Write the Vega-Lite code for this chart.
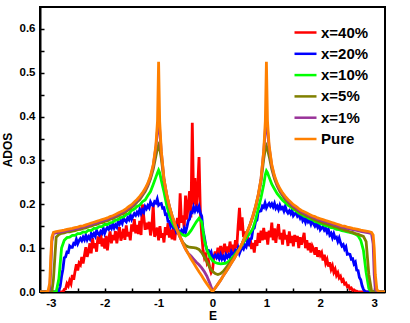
{
"$schema": "https://vega.github.io/schema/vega-lite/v6.json",
"width": 345,
"height": 285,
"autosize": {"type": "none"},
"padding": {"left": 40, "top": 7, "right": 25, "bottom": 31},
"background": "white",
"config": {
  "font": "Liberation Sans",
  "view": {"stroke": "black", "strokeWidth": 2},
  "axis": {"domainColor": "black", "domainWidth": 2, "tickColor": "black", "tickWidth": 1.5, "labelFont": "Liberation Sans", "labelFontWeight": "bold", "labelFontSize": 11.5, "labelColor": "black", "titleFont": "Liberation Sans", "titleFontWeight": "bold", "titleFontSize": 12, "titleColor": "black", "grid": false}
},
"datasets": {
"noisy": [
{"E":-3.2,"x=40%":0,"x=20%":0},{"E":-2.9,"x=40%":0,"x=20%":0},{"E":-2.875,"x=40%":0,"x=20%":0},{"E":-2.85,"x=40%":0,"x=20%":0.003},{"E":-2.825,"x=40%":0,"x=20%":0.013},{"E":-2.8,"x=40%":0,"x=20%":0.036},{"E":-2.775,"x=40%":0,"x=20%":0.052},{"E":-2.75,"x=40%":0.006,"x=20%":0.078},{"E":-2.725,"x=40%":0.007,"x=20%":0.08},{"E":-2.7,"x=40%":0.019,"x=20%":0.091},{"E":-2.675,"x=40%":0.014,"x=20%":0.09},{"E":-2.65,"x=40%":0.026,"x=20%":0.105},{"E":-2.625,"x=40%":0.019,"x=20%":0.102},{"E":-2.6,"x=40%":0.039,"x=20%":0.102},{"E":-2.575,"x=40%":0.028,"x=20%":0.111},{"E":-2.55,"x=40%":0.047,"x=20%":0.109},{"E":-2.525,"x=40%":0.063,"x=20%":0.12},{"E":-2.5,"x=40%":0.049,"x=20%":0.11},{"E":-2.475,"x=40%":0.066,"x=20%":0.117},{"E":-2.45,"x=40%":0.062,"x=20%":0.122},{"E":-2.425,"x=40%":0.08,"x=20%":0.117},{"E":-2.4,"x=40%":0.065,"x=20%":0.125},{"E":-2.375,"x=40%":0.084,"x=20%":0.119},{"E":-2.35,"x=40%":0.102,"x=20%":0.129},{"E":-2.325,"x=40%":0.08,"x=20%":0.119},{"E":-2.3,"x=40%":0.092,"x=20%":0.126},{"E":-2.275,"x=40%":0.111,"x=20%":0.121},{"E":-2.25,"x=40%":0.088,"x=20%":0.133},{"E":-2.225,"x=40%":0.123,"x=20%":0.127},{"E":-2.2,"x=40%":0.1,"x=20%":0.133},{"E":-2.175,"x=40%":0.111,"x=20%":0.127},{"E":-2.15,"x=40%":0.092,"x=20%":0.14},{"E":-2.125,"x=40%":0.127,"x=20%":0.133},{"E":-2.1,"x=40%":0.11,"x=20%":0.13},{"E":-2.075,"x=40%":0.137,"x=20%":0.138},{"E":-2.05,"x=40%":0.104,"x=20%":0.134},{"E":-2.025,"x=40%":0.122,"x=20%":0.145},{"E":-2.0,"x=40%":0.099,"x=20%":0.134},{"E":-1.975,"x=40%":0.128,"x=20%":0.142},{"E":-1.95,"x=40%":0.095,"x=20%":0.147},{"E":-1.925,"x=40%":0.122,"x=20%":0.143},{"E":-1.9,"x=40%":0.138,"x=20%":0.15},{"E":-1.875,"x=40%":0.111,"x=20%":0.145},{"E":-1.85,"x=40%":0.13,"x=20%":0.155},{"E":-1.825,"x=40%":0.118,"x=20%":0.146},{"E":-1.8,"x=40%":0.139,"x=20%":0.153},{"E":-1.775,"x=40%":0.111,"x=20%":0.148},{"E":-1.75,"x=40%":0.132,"x=20%":0.161},{"E":-1.725,"x=40%":0.148,"x=20%":0.155},{"E":-1.7,"x=40%":0.117,"x=20%":0.162},{"E":-1.675,"x=40%":0.128,"x=20%":0.156},{"E":-1.65,"x=40%":0.144,"x=20%":0.169},{"E":-1.625,"x=40%":0.119,"x=20%":0.163},{"E":-1.6,"x=40%":0.152,"x=20%":0.16},{"E":-1.575,"x=40%":0.127,"x=20%":0.169},{"E":-1.55,"x=40%":0.137,"x=20%":0.165},{"E":-1.525,"x=40%":0.118,"x=20%":0.176},{"E":-1.5,"x=40%":0.154,"x=20%":0.166},{"E":-1.475,"x=40%":0.138,"x=20%":0.173},{"E":-1.45,"x=40%":0.166,"x=20%":0.179},{"E":-1.425,"x=40%":0.134,"x=20%":0.175},{"E":-1.4,"x=40%":0.153,"x=20%":0.182},{"E":-1.375,"x=40%":0.132,"x=20%":0.177},{"E":-1.35,"x=40%":0.162,"x=20%":0.188},{"E":-1.325,"x=40%":0.13,"x=20%":0.179},{"E":-1.3,"x=40%":0.2,"x=20%":0.187},{"E":-1.275,"x=40%":0.172,"x=20%":0.182},{"E":-1.25,"x=40%":0.142,"x=20%":0.195},{"E":-1.225,"x=40%":0.158,"x=20%":0.19},{"E":-1.2,"x=40%":0.143,"x=20%":0.197},{"E":-1.175,"x=40%":0.16,"x=20%":0.192},{"E":-1.15,"x=40%":0.129,"x=20%":0.205},{"E":-1.125,"x=40%":0.147,"x=20%":0.199},{"E":-1.1,"x=40%":0.2,"x=20%":0.197},{"E":-1.075,"x=40%":0.126,"x=20%":0.206},{"E":-1.05,"x=40%":0.134,"x=20%":0.203},{"E":-1.025,"x=40%":0.147,"x=20%":0.212},{"E":-1.0,"x=40%":0.118,"x=20%":0.198},{"E":-0.975,"x=40%":0.15,"x=20%":0.201},{"E":-0.95,"x=40%":0.124,"x=20%":0.202},{"E":-0.925,"x=40%":0.134,"x=20%":0.191},{"E":-0.9,"x=40%":0.113,"x=20%":0.192},{"E":-0.875,"x=40%":0.148,"x=20%":0.177},{"E":-0.85,"x=40%":0.13,"x=20%":0.178},{"E":-0.825,"x=40%":0.157,"x=20%":0.161},{"E":-0.8,"x=40%":0.124,"x=20%":0.161},{"E":-0.775,"x=40%":0.142,"x=20%":0.15},{"E":-0.75,"x=40%":0.12,"x=20%":0.157},{"E":-0.725,"x=40%":0.15,"x=20%":0.147},{"E":-0.7,"x=40%":0.118,"x=20%":0.149},{"E":-0.675,"x=40%":0.149,"x=20%":0.139},{"E":-0.65,"x=40%":0.169,"x=20%":0.147},{"E":-0.625,"x=40%":0.146,"x=20%":0.138},{"E":-0.6,"x=40%":0.225,"x=20%":0.133},{"E":-0.575,"x=40%":0.158,"x=20%":0.14},{"E":-0.55,"x=40%":0.175,"x=20%":0.135},{"E":-0.525,"x=40%":0.145,"x=20%":0.145},{"E":-0.5,"x=40%":0.22,"x=20%":0.136},{"E":-0.475,"x=40%":0.165,"x=20%":0.148},{"E":-0.45,"x=40%":0.2,"x=20%":0.162},{"E":-0.425,"x=40%":0.23,"x=20%":0.166},{"E":-0.4,"x=40%":0.17,"x=20%":0.182},{"E":-0.375,"x=40%":0.386,"x=20%":0.181},{"E":-0.35,"x=40%":0.2,"x=20%":0.194},{"E":-0.325,"x=40%":0.26,"x=20%":0.185},{"E":-0.3,"x=40%":0.19,"x=20%":0.193},{"E":-0.275,"x=40%":0.235,"x=20%":0.186},{"E":-0.25,"x=40%":0.308,"x=20%":0.195},{"E":-0.225,"x=40%":0.18,"x=20%":0.18},{"E":-0.2,"x=40%":0.13,"x=20%":0.173},{"E":-0.175,"x=40%":0.095,"x=20%":0.141},{"E":-0.15,"x=40%":0.078,"x=20%":0.125},{"E":-0.125,"x=40%":0.085,"x=20%":0.106},{"E":-0.1,"x=40%":0.066,"x=20%":0.095},{"E":-0.075,"x=40%":0.072,"x=20%":0.095},{"E":-0.05,"x=40%":0.055,"x=20%":0.085},{"E":-0.025,"x=40%":0.044,"x=20%":0.091},{"E":0,"x=40%":0.05,"x=20%":0.076},{"E":0.025,"x=40%":0.078,"x=20%":0.081},{"E":0.05,"x=40%":0.092,"x=20%":0.084},{"E":0.075,"x=40%":0.079,"x=20%":0.078},{"E":0.1,"x=40%":0.101,"x=20%":0.084},{"E":0.125,"x=40%":0.086,"x=20%":0.076},{"E":0.15,"x=40%":0.105,"x=20%":0.085},{"E":0.175,"x=40%":0.083,"x=20%":0.075},{"E":0.2,"x=40%":0.098,"x=20%":0.081},{"E":0.225,"x=40%":0.11,"x=20%":0.074},{"E":0.25,"x=40%":0.085,"x=20%":0.085},{"E":0.275,"x=40%":0.104,"x=20%":0.079},{"E":0.3,"x=40%":0.09,"x=20%":0.085},{"E":0.325,"x=40%":0.115,"x=20%":0.079},{"E":0.35,"x=40%":0.094,"x=20%":0.092},{"E":0.375,"x=40%":0.108,"x=20%":0.086},{"E":0.4,"x=40%":0.087,"x=20%":0.085},{"E":0.425,"x=40%":0.118,"x=20%":0.094},{"E":0.45,"x=40%":0.1,"x=20%":0.09},{"E":0.475,"x=40%":0.15,"x=20%":0.1},{"E":0.5,"x=40%":0.192,"x=20%":0.088},{"E":0.525,"x=40%":0.14,"x=20%":0.096},{"E":0.55,"x=40%":0.17,"x=20%":0.102},{"E":0.575,"x=40%":0.125,"x=20%":0.098},{"E":0.6,"x=40%":0.138,"x=20%":0.107},{"E":0.625,"x=40%":0.115,"x=20%":0.103},{"E":0.65,"x=40%":0.128,"x=20%":0.116},{"E":0.675,"x=40%":0.105,"x=20%":0.11},{"E":0.7,"x=40%":0.122,"x=20%":0.121},{"E":0.725,"x=40%":0.098,"x=20%":0.122},{"E":0.75,"x=40%":0.112,"x=20%":0.143},{"E":0.775,"x=40%":0.09,"x=20%":0.146},{"E":0.8,"x=40%":0.118,"x=20%":0.161},{"E":0.825,"x=40%":0.105,"x=20%":0.164},{"E":0.85,"x=40%":0.135,"x=20%":0.185},{"E":0.875,"x=40%":0.112,"x=20%":0.184},{"E":0.9,"x=40%":0.14,"x=20%":0.185},{"E":0.925,"x=40%":0.118,"x=20%":0.196},{"E":0.95,"x=40%":0.146,"x=20%":0.193},{"E":0.975,"x=40%":0.12,"x=20%":0.203},{"E":1.0,"x=40%":0.137,"x=20%":0.192},{"E":1.025,"x=40%":0.108,"x=20%":0.198},{"E":1.05,"x=40%":0.14,"x=20%":0.202},{"E":1.075,"x=40%":0.125,"x=20%":0.196},{"E":1.1,"x=40%":0.158,"x=20%":0.201},{"E":1.125,"x=40%":0.118,"x=20%":0.194},{"E":1.15,"x=40%":0.145,"x=20%":0.202},{"E":1.175,"x=40%":0.112,"x=20%":0.191},{"E":1.2,"x=40%":0.138,"x=20%":0.196},{"E":1.225,"x=40%":0.155,"x=20%":0.188},{"E":1.25,"x=40%":0.12,"x=20%":0.198},{"E":1.275,"x=40%":0.135,"x=20%":0.19},{"E":1.3,"x=40%":0.108,"x=20%":0.193},{"E":1.325,"x=40%":0.142,"x=20%":0.185},{"E":1.35,"x=40%":0.12,"x=20%":0.195},{"E":1.375,"x=40%":0.13,"x=20%":0.185},{"E":1.4,"x=40%":0.105,"x=20%":0.18},{"E":1.425,"x=40%":0.138,"x=20%":0.185},{"E":1.45,"x=40%":0.112,"x=20%":0.179},{"E":1.475,"x=40%":0.128,"x=20%":0.187},{"E":1.5,"x=40%":0.104,"x=20%":0.174},{"E":1.525,"x=40%":0.13,"x=20%":0.178},{"E":1.55,"x=40%":0.115,"x=20%":0.181},{"E":1.575,"x=40%":0.128,"x=20%":0.173},{"E":1.6,"x=40%":0.1,"x=20%":0.177},{"E":1.625,"x=40%":0.125,"x=20%":0.169},{"E":1.65,"x=40%":0.108,"x=20%":0.176},{"E":1.675,"x=40%":0.12,"x=20%":0.163},{"E":1.7,"x=40%":0.135,"x=20%":0.168},{"E":1.725,"x=40%":0.1,"x=20%":0.159},{"E":1.75,"x=40%":0.118,"x=20%":0.169},{"E":1.775,"x=40%":0.095,"x=20%":0.16},{"E":1.8,"x=40%":0.112,"x=20%":0.164},{"E":1.825,"x=40%":0.09,"x=20%":0.155},{"E":1.85,"x=40%":0.105,"x=20%":0.165},{"E":1.875,"x=40%":0.098,"x=20%":0.155},{"E":1.9,"x=40%":0.085,"x=20%":0.15},{"E":1.925,"x=40%":0.102,"x=20%":0.155},{"E":1.95,"x=40%":0.08,"x=20%":0.148},{"E":1.975,"x=40%":0.095,"x=20%":0.156},{"E":2.0,"x=40%":0.084,"x=20%":0.142},{"E":2.025,"x=40%":0.09,"x=20%":0.146},{"E":2.05,"x=40%":0.072,"x=20%":0.149},{"E":2.075,"x=40%":0.085,"x=20%":0.141},{"E":2.1,"x=40%":0.066,"x=20%":0.145},{"E":2.125,"x=40%":0.074,"x=20%":0.136},{"E":2.15,"x=40%":0.058,"x=20%":0.143},{"E":2.175,"x=40%":0.068,"x=20%":0.13},{"E":2.2,"x=40%":0.052,"x=20%":0.134},{"E":2.225,"x=40%":0.06,"x=20%":0.124},{"E":2.25,"x=40%":0.045,"x=20%":0.133},{"E":2.275,"x=40%":0.052,"x=20%":0.123},{"E":2.3,"x=40%":0.038,"x=20%":0.125},{"E":2.325,"x=40%":0.044,"x=20%":0.115},{"E":2.35,"x=40%":0.032,"x=20%":0.123},{"E":2.375,"x=40%":0.036,"x=20%":0.112},{"E":2.4,"x=40%":0.025,"x=20%":0.105},{"E":2.425,"x=40%":0.028,"x=20%":0.108},{"E":2.45,"x=40%":0.018,"x=20%":0.098},{"E":2.475,"x=40%":0.02,"x=20%":0.103},{"E":2.5,"x=40%":0.012,"x=20%":0.086},{"E":2.525,"x=40%":0.014,"x=20%":0.087},{"E":2.55,"x=40%":0.007,"x=20%":0.086},{"E":2.575,"x=40%":0.009,"x=20%":0.075},{"E":2.6,"x=40%":0.004,"x=20%":0.076},{"E":2.625,"x=40%":0.005,"x=20%":0.064},{"E":2.65,"x=40%":0.002,"x=20%":0.068},{"E":2.675,"x=40%":0.002,"x=20%":0.05},{"E":2.7,"x=40%":0,"x=20%":0.049},{"E":2.725,"x=40%":0,"x=20%":0.033},{"E":2.75,"x=40%":0,"x=20%":0.028},{"E":2.775,"x=40%":0,"x=20%":0.014},{"E":2.8,"x=40%":0,"x=20%":0.006},{"E":2.825,"x=40%":0,"x=20%":0.002},{"E":2.85,"x=40%":0,"x=20%":0},{"E":2.9,"x=40%":0,"x=20%":0},{"E":3.2,"x=40%":0,"x=20%":0}
],
"smooth": [
{"E":-3.2,"x=10%":0,"x=5%":0,"x=1%":0,"Pure":0},{"E":-3.15,"x=10%":0,"x=5%":0,"x=1%":0,"Pure":0},{"E":-3.1,"x=10%":0,"x=5%":0,"x=1%":0,"Pure":0},{"E":-3.05,"x=10%":0,"x=5%":0,"x=1%":0.001,"Pure":0.003},{"E":-3.02,"x=10%":0,"x=5%":0,"x=1%":0.006,"Pure":0.02},{"E":-3.0,"x=10%":0,"x=5%":0,"x=1%":0.05,"Pure":0.08},{"E":-2.98,"x=10%":0,"x=5%":0,"x=1%":0.115,"Pure":0.125},{"E":-2.95,"x=10%":0,"x=5%":0.03,"x=1%":0.134,"Pure":0.136},{"E":-2.9,"x=10%":0,"x=5%":0.125,"x=1%":0.135,"Pure":0.138},{"E":-2.85,"x=10%":0.03,"x=5%":0.131,"x=1%":0.136,"Pure":0.139},{"E":-2.8,"x=10%":0.1,"x=5%":0.134,"x=1%":0.137,"Pure":0.14},{"E":-2.75,"x=10%":0.118,"x=5%":0.135,"x=1%":0.138,"Pure":0.141},{"E":-2.7,"x=10%":0.124,"x=5%":0.137,"x=1%":0.14,"Pure":0.143},{"E":-2.65,"x=10%":0.125,"x=5%":0.137,"x=1%":0.141,"Pure":0.144},{"E":-2.6,"x=10%":0.129,"x=5%":0.139,"x=1%":0.142,"Pure":0.145},{"E":-2.55,"x=10%":0.129,"x=5%":0.14,"x=1%":0.144,"Pure":0.147},{"E":-2.5,"x=10%":0.133,"x=5%":0.142,"x=1%":0.145,"Pure":0.148},{"E":-2.45,"x=10%":0.133,"x=5%":0.143,"x=1%":0.147,"Pure":0.15},{"E":-2.4,"x=10%":0.137,"x=5%":0.145,"x=1%":0.148,"Pure":0.151},{"E":-2.35,"x=10%":0.136,"x=5%":0.146,"x=1%":0.15,"Pure":0.153},{"E":-2.3,"x=10%":0.141,"x=5%":0.149,"x=1%":0.152,"Pure":0.155},{"E":-2.25,"x=10%":0.14,"x=5%":0.15,"x=1%":0.154,"Pure":0.157},{"E":-2.2,"x=10%":0.145,"x=5%":0.153,"x=1%":0.156,"Pure":0.159},{"E":-2.15,"x=10%":0.145,"x=5%":0.154,"x=1%":0.158,"Pure":0.161},{"E":-2.1,"x=10%":0.149,"x=5%":0.157,"x=1%":0.16,"Pure":0.163},{"E":-2.05,"x=10%":0.149,"x=5%":0.158,"x=1%":0.162,"Pure":0.165},{"E":-2.0,"x=10%":0.154,"x=5%":0.161,"x=1%":0.164,"Pure":0.167},{"E":-1.95,"x=10%":0.154,"x=5%":0.162,"x=1%":0.166,"Pure":0.169},{"E":-1.9,"x=10%":0.158,"x=5%":0.166,"x=1%":0.169,"Pure":0.172},{"E":-1.85,"x=10%":0.159,"x=5%":0.167,"x=1%":0.171,"Pure":0.174},{"E":-1.8,"x=10%":0.164,"x=5%":0.171,"x=1%":0.174,"Pure":0.177},{"E":-1.75,"x=10%":0.165,"x=5%":0.173,"x=1%":0.177,"Pure":0.18},{"E":-1.7,"x=10%":0.17,"x=5%":0.177,"x=1%":0.18,"Pure":0.183},{"E":-1.65,"x=10%":0.171,"x=5%":0.179,"x=1%":0.183,"Pure":0.186},{"E":-1.6,"x=10%":0.177,"x=5%":0.184,"x=1%":0.187,"Pure":0.19},{"E":-1.55,"x=10%":0.179,"x=5%":0.188,"x=1%":0.192,"Pure":0.195},{"E":-1.5,"x=10%":0.186,"x=5%":0.193,"x=1%":0.196,"Pure":0.199},{"E":-1.45,"x=10%":0.189,"x=5%":0.198,"x=1%":0.202,"Pure":0.205},{"E":-1.4,"x=10%":0.195,"x=5%":0.205,"x=1%":0.208,"Pure":0.211},{"E":-1.35,"x=10%":0.198,"x=5%":0.211,"x=1%":0.215,"Pure":0.218},{"E":-1.3,"x=10%":0.206,"x=5%":0.22,"x=1%":0.223,"Pure":0.226},{"E":-1.25,"x=10%":0.21,"x=5%":0.229,"x=1%":0.233,"Pure":0.236},{"E":-1.2,"x=10%":0.22,"x=5%":0.242,"x=1%":0.245,"Pure":0.248},{"E":-1.15,"x=10%":0.229,"x=5%":0.258,"x=1%":0.262,"Pure":0.265},{"E":-1.1,"x=10%":0.245,"x=5%":0.28,"x=1%":0.287,"Pure":0.29},{"E":-1.05,"x=10%":0.262,"x=5%":0.31,"x=1%":0.33,"Pure":0.335},{"E":-1.02,"x=10%":0.272,"x=5%":0.328,"x=1%":0.37,"Pure":0.39},{"E":-1.0,"x=10%":0.278,"x=5%":0.335,"x=1%":0.4,"Pure":0.525},{"E":-0.98,"x=10%":0.272,"x=5%":0.328,"x=1%":0.37,"Pure":0.39},{"E":-0.95,"x=10%":0.255,"x=5%":0.305,"x=1%":0.32,"Pure":0.322},{"E":-0.9,"x=10%":0.228,"x=5%":0.255,"x=1%":0.257,"Pure":0.258},{"E":-0.85,"x=10%":0.198,"x=5%":0.22,"x=1%":0.222,"Pure":0.223},{"E":-0.8,"x=10%":0.175,"x=5%":0.194,"x=1%":0.195,"Pure":0.196},{"E":-0.75,"x=10%":0.16,"x=5%":0.173,"x=1%":0.174,"Pure":0.174},{"E":-0.7,"x=10%":0.148,"x=5%":0.155,"x=1%":0.155,"Pure":0.155},{"E":-0.65,"x=10%":0.14,"x=5%":0.139,"x=1%":0.139,"Pure":0.139},{"E":-0.6,"x=10%":0.134,"x=5%":0.125,"x=1%":0.125,"Pure":0.125},{"E":-0.55,"x=10%":0.13,"x=5%":0.113,"x=1%":0.111,"Pure":0.111},{"E":-0.5,"x=10%":0.128,"x=5%":0.106,"x=1%":0.098,"Pure":0.098},{"E":-0.45,"x=10%":0.132,"x=5%":0.103,"x=1%":0.088,"Pure":0.087},{"E":-0.4,"x=10%":0.14,"x=5%":0.102,"x=1%":0.082,"Pure":0.076},{"E":-0.35,"x=10%":0.15,"x=5%":0.101,"x=1%":0.075,"Pure":0.066},{"E":-0.3,"x=10%":0.16,"x=5%":0.1,"x=1%":0.068,"Pure":0.056},{"E":-0.25,"x=10%":0.168,"x=5%":0.097,"x=1%":0.062,"Pure":0.046},{"E":-0.2,"x=10%":0.16,"x=5%":0.09,"x=1%":0.055,"Pure":0.037},{"E":-0.15,"x=10%":0.118,"x=5%":0.08,"x=1%":0.046,"Pure":0.027},{"E":-0.1,"x=10%":0.095,"x=5%":0.068,"x=1%":0.035,"Pure":0.018},{"E":-0.05,"x=10%":0.08,"x=5%":0.056,"x=1%":0.02,"Pure":0.009},{"E":0,"x=10%":0.072,"x=5%":0.047,"x=1%":0.003,"Pure":0},{"E":0.05,"x=10%":0.067,"x=5%":0.042,"x=1%":0.009,"Pure":0.009},{"E":0.1,"x=10%":0.065,"x=5%":0.04,"x=1%":0.018,"Pure":0.018},{"E":0.15,"x=10%":0.064,"x=5%":0.042,"x=1%":0.027,"Pure":0.027},{"E":0.2,"x=10%":0.065,"x=5%":0.047,"x=1%":0.037,"Pure":0.037},{"E":0.25,"x=10%":0.066,"x=5%":0.055,"x=1%":0.046,"Pure":0.046},{"E":0.3,"x=10%":0.07,"x=5%":0.063,"x=1%":0.056,"Pure":0.056},{"E":0.35,"x=10%":0.076,"x=5%":0.071,"x=1%":0.066,"Pure":0.066},{"E":0.4,"x=10%":0.083,"x=5%":0.079,"x=1%":0.076,"Pure":0.076},{"E":0.45,"x=10%":0.091,"x=5%":0.088,"x=1%":0.087,"Pure":0.087},{"E":0.5,"x=10%":0.098,"x=5%":0.098,"x=1%":0.098,"Pure":0.098},{"E":0.55,"x=10%":0.108,"x=5%":0.11,"x=1%":0.111,"Pure":0.111},{"E":0.6,"x=10%":0.118,"x=5%":0.124,"x=1%":0.125,"Pure":0.125},{"E":0.65,"x=10%":0.127,"x=5%":0.138,"x=1%":0.139,"Pure":0.139},{"E":0.7,"x=10%":0.135,"x=5%":0.154,"x=1%":0.155,"Pure":0.155},{"E":0.75,"x=10%":0.145,"x=5%":0.172,"x=1%":0.174,"Pure":0.174},{"E":0.8,"x=10%":0.165,"x=5%":0.193,"x=1%":0.195,"Pure":0.196},{"E":0.85,"x=10%":0.19,"x=5%":0.219,"x=1%":0.222,"Pure":0.223},{"E":0.9,"x=10%":0.215,"x=5%":0.253,"x=1%":0.257,"Pure":0.258},{"E":0.95,"x=10%":0.245,"x=5%":0.303,"x=1%":0.32,"Pure":0.322},{"E":0.98,"x=10%":0.268,"x=5%":0.326,"x=1%":0.37,"Pure":0.39},{"E":1.0,"x=10%":0.276,"x=5%":0.333,"x=1%":0.4,"Pure":0.525},{"E":1.02,"x=10%":0.272,"x=5%":0.326,"x=1%":0.37,"Pure":0.39},{"E":1.05,"x=10%":0.262,"x=5%":0.31,"x=1%":0.33,"Pure":0.335},{"E":1.1,"x=10%":0.246,"x=5%":0.28,"x=1%":0.287,"Pure":0.29},{"E":1.15,"x=10%":0.235,"x=5%":0.258,"x=1%":0.262,"Pure":0.265},{"E":1.2,"x=10%":0.224,"x=5%":0.242,"x=1%":0.245,"Pure":0.248},{"E":1.25,"x=10%":0.217,"x=5%":0.229,"x=1%":0.233,"Pure":0.236},{"E":1.3,"x=10%":0.209,"x=5%":0.22,"x=1%":0.223,"Pure":0.226},{"E":1.35,"x=10%":0.204,"x=5%":0.211,"x=1%":0.215,"Pure":0.218},{"E":1.4,"x=10%":0.198,"x=5%":0.205,"x=1%":0.208,"Pure":0.211},{"E":1.45,"x=10%":0.194,"x=5%":0.198,"x=1%":0.202,"Pure":0.205},{"E":1.5,"x=10%":0.189,"x=5%":0.193,"x=1%":0.196,"Pure":0.199},{"E":1.55,"x=10%":0.185,"x=5%":0.188,"x=1%":0.192,"Pure":0.195},{"E":1.6,"x=10%":0.18,"x=5%":0.184,"x=1%":0.187,"Pure":0.19},{"E":1.65,"x=10%":0.177,"x=5%":0.179,"x=1%":0.183,"Pure":0.186},{"E":1.7,"x=10%":0.173,"x=5%":0.177,"x=1%":0.18,"Pure":0.183},{"E":1.75,"x=10%":0.171,"x=5%":0.173,"x=1%":0.177,"Pure":0.18},{"E":1.8,"x=10%":0.167,"x=5%":0.171,"x=1%":0.174,"Pure":0.177},{"E":1.85,"x=10%":0.165,"x=5%":0.167,"x=1%":0.171,"Pure":0.174},{"E":1.9,"x=10%":0.161,"x=5%":0.165,"x=1%":0.169,"Pure":0.172},{"E":1.95,"x=10%":0.159,"x=5%":0.162,"x=1%":0.166,"Pure":0.169},{"E":2.0,"x=10%":0.156,"x=5%":0.16,"x=1%":0.164,"Pure":0.167},{"E":2.05,"x=10%":0.154,"x=5%":0.157,"x=1%":0.162,"Pure":0.165},{"E":2.1,"x=10%":0.151,"x=5%":0.156,"x=1%":0.16,"Pure":0.163},{"E":2.15,"x=10%":0.15,"x=5%":0.153,"x=1%":0.158,"Pure":0.161},{"E":2.2,"x=10%":0.147,"x=5%":0.152,"x=1%":0.156,"Pure":0.159},{"E":2.25,"x=10%":0.146,"x=5%":0.149,"x=1%":0.154,"Pure":0.157},{"E":2.3,"x=10%":0.143,"x=5%":0.148,"x=1%":0.152,"Pure":0.155},{"E":2.35,"x=10%":0.142,"x=5%":0.145,"x=1%":0.15,"Pure":0.153},{"E":2.4,"x=10%":0.14,"x=5%":0.144,"x=1%":0.148,"Pure":0.151},{"E":2.45,"x=10%":0.139,"x=5%":0.141,"x=1%":0.147,"Pure":0.15},{"E":2.5,"x=10%":0.137,"x=5%":0.14,"x=1%":0.145,"Pure":0.148},{"E":2.55,"x=10%":0.136,"x=5%":0.137,"x=1%":0.144,"Pure":0.147},{"E":2.6,"x=10%":0.134,"x=5%":0.136,"x=1%":0.142,"Pure":0.145},{"E":2.65,"x=10%":0.132,"x=5%":0.133,"x=1%":0.141,"Pure":0.144},{"E":2.7,"x=10%":0.128,"x=5%":0.132,"x=1%":0.14,"Pure":0.143},{"E":2.75,"x=10%":0.118,"x=5%":0.129,"x=1%":0.138,"Pure":0.141},{"E":2.8,"x=10%":0.095,"x=5%":0.127,"x=1%":0.137,"Pure":0.14},{"E":2.85,"x=10%":0.045,"x=5%":0.115,"x=1%":0.136,"Pure":0.139},{"E":2.9,"x=10%":0.008,"x=5%":0.04,"x=1%":0.135,"Pure":0.138},{"E":2.95,"x=10%":0,"x=5%":0.003,"x=1%":0.133,"Pure":0.136},{"E":2.98,"x=10%":0,"x=5%":0,"x=1%":0.11,"Pure":0.13},{"E":3.0,"x=10%":0,"x=5%":0,"x=1%":0.04,"Pure":0.1},{"E":3.02,"x=10%":0,"x=5%":0,"x=1%":0.006,"Pure":0.04},{"E":3.05,"x=10%":0,"x=5%":0,"x=1%":0.001,"Pure":0.005},{"E":3.1,"x=10%":0,"x=5%":0,"x=1%":0,"Pure":0},{"E":3.15,"x=10%":0,"x=5%":0,"x=1%":0,"Pure":0},{"E":3.2,"x=10%":0,"x=5%":0,"x=1%":0,"Pure":0}
]
},
"encoding": {
  "x": {"field": "E", "type": "quantitative", "scale": {"domain": [-3.2, 3.2], "nice": false, "zero": false},
    "axis": {"title": "E", "values": [-3, -2.5, -2, -1.5, -1, -0.5, 0, 0.5, 1, 1.5, 2, 2.5, 3], "labelExpr": "round(datum.value*2) % 2 === 0 ? '' + datum.value : ''", "tickSize": -4, "labelPadding": 9.5, "labelOverlap": false, "labelFlush": false, "titlePadding": 1}},
  "y": {"field": "ADOS", "type": "quantitative", "scale": {"domain": [0, 0.65], "nice": false},
    "axis": {"title": "ADOS", "values": [0, 0.05, 0.1, 0.15, 0.2, 0.25, 0.3, 0.35, 0.4, 0.45, 0.5, 0.55, 0.6], "labelExpr": "round(datum.value*20) % 2 === 0 ? format(datum.value, '.1f') : ''", "tickSize": -4, "labelPadding": 9, "labelOverlap": false, "labelFlush": false, "titlePadding": 5}},
  "color": {"field": "series", "type": "nominal",
    "scale": {"domain": ["x=40%", "x=20%", "x=10%", "x=5%", "x=1%", "Pure"], "range": ["#ff0000", "#0000ff", "#00ff00", "#808000", "#993399", "#ff8000"]},
    "legend": {"title": null, "orient": "none", "legendX": 253, "legendY": 13, "symbolType": "stroke", "symbolSize": 484, "symbolStrokeWidth": 2.5, "labelFontSize": 15, "labelFontWeight": "bold", "labelFont": "Liberation Sans", "labelColor": "black", "labelOffset": 3, "rowPadding": 0.3, "padding": 0, "labelLimit": 200}}
},
"layer": [
  {"data": {"name": "noisy"}, "transform": [{"fold": ["x=40%", "x=20%"], "as": ["series", "ADOS"]}], "mark": {"type": "line", "strokeWidth": 2.8, "clip": true}},
  {"data": {"name": "smooth"}, "transform": [{"fold": ["x=10%", "x=5%", "x=1%", "Pure"], "as": ["series", "ADOS"]}], "mark": {"type": "line", "strokeWidth": 2.8, "clip": true}}
]
}
